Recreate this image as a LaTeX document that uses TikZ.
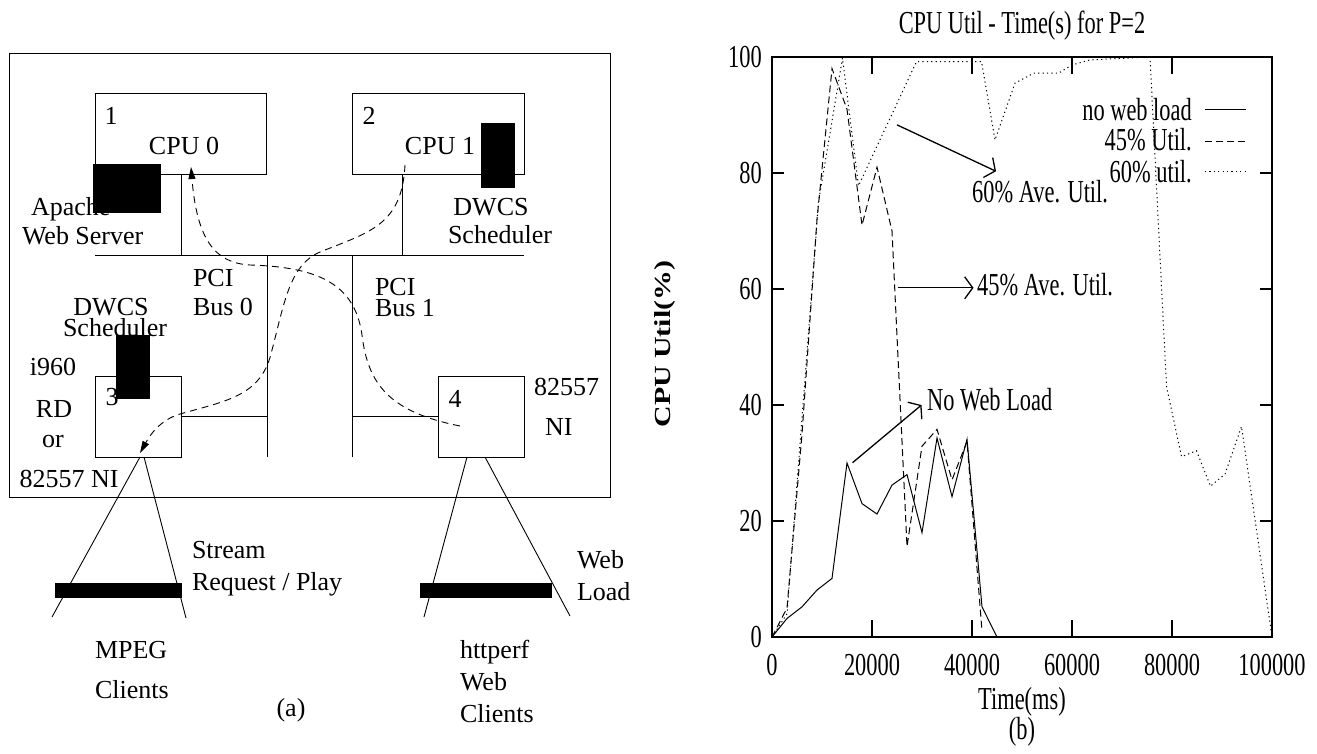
\documentclass[tikz,border=0pt]{standalone}
\usepackage{fontspec}
\setmainfont{Liberation Serif}
\newfontfamily\plotfont[FakeStretch=0.7]{Liberation Serif}
\newfontfamily\ylabfont[FakeStretch=1.3]{Liberation Serif}
\usetikzlibrary{arrows.meta}
\begin{document}
\begin{tikzpicture}[x=1pt,y=-1pt,
  txt/.style={font=\fontsize{26}{28}\selectfont, inner sep=0pt, outer sep=0pt},
  ptxt/.style={font=\plotfont\fontsize{32}{34}\selectfont, inner sep=0pt},
  box/.style={draw, line width=0.9pt, anchor=north west, inner sep=0pt, outer sep=0pt},
  wire/.style={line width=0.9pt},
  flow/.style={line width=0.9pt, dash pattern=on 7pt off 5pt},
  flowtip/.style={-{Triangle[length=12pt,width=7pt]}},
  axis/.style={line width=2.2pt},
  ann/.style={line width=1.3pt, -{Straight Barb[length=8pt,width=22pt]}},
  solidc/.style={line width=1pt},
  dashc/.style={line width=1pt, dash pattern=on 7pt off 4pt},
  dotc/.style={line width=1pt, dash pattern=on 1.2pt off 3.2pt}]

\useasboundingbox (0,0) rectangle (1317,753);
\fill[white] (0,0) rectangle (1317,753);

% ---------------- (a) architecture ----------------
\node[box, minimum width=601pt, minimum height=444pt] (outer) at (9,53) {};
\node[box, minimum width=171pt, minimum height=81pt] (box1) at (95,93) {};
\node[box, minimum width=172pt, minimum height=81pt] (box2) at (352,93) {};
\node[box, minimum width=86pt, minimum height=81pt] (box3) at (95,376) {};
\node[box, minimum width=86pt, minimum height=81pt] (box4) at (438,376) {};

\coordinate (busL) at (95,255);
\coordinate (busR) at (524,255);
\draw[wire] (busL) -- (busR);
\coordinate (d1) at ([xshift=86pt]box1.south west);
\draw[wire] (d1) -- (d1 |- busL);
\coordinate (d2) at ([xshift=50pt]box2.south west);
\draw[wire] (d2) -- (d2 |- busL);
\coordinate (pci0top) at (267,255);
\coordinate (pci0bot) at (267,457);
\coordinate (pci1top) at (352,255);
\coordinate (pci1bot) at (352,457);
\draw[wire] (pci0top) -- (pci0bot);
\draw[wire] (pci1top) -- (pci1bot);
\draw[wire] (box3.east) -- (box3.east -| pci0top);
\draw[wire] (box4.west) -- (box4.west -| pci1top);

% client links
\coordinate (s1) at (140,457); \coordinate (e1) at (52,617);
\coordinate (s2) at (144,457); \coordinate (e2) at (186,618);
\coordinate (s3) at (467,457); \coordinate (e3) at (424,617);
\coordinate (s4) at (485,457); \coordinate (e4) at (570,616);
\draw[wire] (s1) -- (e1);
\draw[wire] (s2) -- (e2);
\draw[wire] (s3) -- (e3);
\draw[wire] (s4) -- (e4);
\fill (55,583) rectangle (182,598);
\fill (420,583) rectangle (552,598);

% labels
\node[txt, anchor=base] (n1) at (111,124) {1};
\node[txt, anchor=base] (cpu0) at (184,154) {CPU 0};
\node[txt, anchor=base] (n2) at (369,124) {2};
\node[txt, anchor=base] (cpu1) at (440,154) {CPU 1};
\node[txt, anchor=base west] (apache) at (31,215) {Apache};
\node[txt, anchor=base west] (websrv) at (22,244) {Web Server};
\node[txt, anchor=base] (dwcs1) at (491,215) {DWCS};
\node[txt, anchor=base] (sched1) at (500,243) {Scheduler};
\node[txt, anchor=base west] (pci0a) at (193,286) {PCI};
\node[txt, anchor=base west] (pci0b) at (193,315) {Bus 0};
\node[txt, anchor=base west] (pci1a) at (375,295) {PCI};
\node[txt, anchor=base west] (pci1b) at (375,316) {Bus 1};
\node[txt, anchor=base] (dwcs2) at (111,315) {DWCS};
\node[txt, anchor=base] (sched2) at (115,336) {Scheduler};
\node[txt, anchor=base] (i960) at (53,375) {i960};
\node[txt, anchor=base] (n3) at (112,405) {3};
\node[txt, anchor=base] (rd) at (54,417) {RD};
\node[txt, anchor=base] (or) at (53,447) {or};
\node[txt, anchor=base] (ni1) at (69,487) {82557 NI};
\node[txt, anchor=base] (n4) at (455,407) {4};
\node[txt, anchor=base west] (ni2a) at (534,395) {82557};
\node[txt, anchor=base west] (ni2b) at (545,435) {NI};
\node[txt, anchor=base west] (stream) at (192,558) {Stream};
\node[txt, anchor=base west] (reqplay) at (192,590) {Request / Play};
\node[txt, anchor=base west] (webl) at (577,568) {Web};
\node[txt, anchor=base west] (load) at (577,600) {Load};
\node[txt, anchor=base west] (mpeg) at (95,658) {MPEG};
\node[txt, anchor=base west] (cli1) at (95,698) {Clients};
\node[txt, anchor=base] (capa) at (291,716) {(a)};
\node[txt, anchor=base west] (httperf) at (460,658) {httperf};
\node[txt, anchor=base west] (web2) at (460,690) {Web};
\node[txt, anchor=base west] (cli2) at (460,722) {Clients};

% scheduler / server blocks
\fill (93,164) rectangle (161,213);
\fill (481,123) rectangle (515,188);
\fill (116,335) rectangle (150,399);

% data flows
\coordinate (aStart) at (460,426);
\coordinate (aEnd) at (191,167);
\draw[flow, flowtip] (aStart) .. controls (390,412) and (368,385) .. (362,335)
  .. controls (355,285) and (320,267) .. (250,265)
  .. controls (215,263) and (197,240) .. (aEnd);
\coordinate (bStart) at (405,165);
\coordinate (bEnd) at (140,453);
\draw[flow, flowtip] (bStart) .. controls (402,225) and (370,232) .. (320,252)
  .. controls (290,265) and (285,300) .. (272,350)
  .. controls (262,395) and (230,400) .. (180,414)
  .. controls (160,420) and (150,435) .. (bEnd);

% ---------------- (b) plot ----------------
\begin{scope}[shift={(772,637)}, x=5pt, y=5.8pt]
  \draw[axis] (0,0) rectangle (100,100);
  \foreach \t in {20,40,60,80} {
    \draw[axis] (\t,0) -- (\t,2.93);
    \draw[axis] (\t,100) -- (\t,97.07);
  }
  \foreach \u in {20,40,60,80} {
    \draw[axis] (0,\u) -- (2.4,\u);
    \draw[axis] (100,\u) -- (97.6,\u);
  }
  \foreach \u in {0,20,40,60,80,100}
    \node[ptxt, anchor=east] (yl\u) at (-2,\u) {\u};
  \foreach \t/\l in {0/0,20/20000,40/40000,60/60000,80/80000,100/100000}
    \node[ptxt] (xl\t) at (\t,-4.9) {\l};

  \node[ptxt, anchor=base] (title) at (50,104.1) {CPU Util - Time(s) for P=2};
  \node[ptxt] (xlab) at (50,-11.2) {Time(ms)};
  \node[ptxt] (capb) at (50,-16.4) {(b)};
  \node[font=\ylabfont\bfseries\fontsize{23}{25}\selectfont, rotate=90, inner sep=0pt] (ylab) at (-21.4,50.5) {CPU Util(\%)};

  % curves
  \draw[solidc] plot coordinates {(0,0) (3,3.2) (6,5.2) (9,8.1) (12,10.1) (15,30) (18,23) (21,21.2) (24,26.2) (27,28) (30,18) (33,34.3) (36,24.2) (39,34.1) (42,5.2) (45,0)};
  \draw[dashc] plot coordinates {(0,0) (3,5) (6,35) (9,72) (12,98) (15,91) (18,71) (21,81) (24,70) (27,15.6) (30,32.9) (33,35.8) (36,27.1) (39,33.7) (42,1)};
  \draw[dotc] plot coordinates {(0,0) (3,4) (9.3,75) (14.1,99.8) (17.3,77.8) (28.9,99.2) (41.9,99.2) (44.6,85.7) (48.6,95.5) (52.3,97.2) (57.3,97.2) (59.9,98.6) (63.6,99.5) (75.6,100) (78.9,43.2) (81.9,31.1) (84.9,32.1) (87.7,26) (90.6,28.1) (93.9,36.3) (100,0)};

  % legend
  \node[ptxt, anchor=base east] (lg1) at (84,89.1) {no web load};
  \node[ptxt, anchor=base east] (lg2) at (84,83.8) {45\% Util.};
  \node[ptxt, anchor=base east] (lg3) at (84,78.4) {60\% util.};
  \coordinate (k1a) at (86.6,90.9); \coordinate (k1b) at (94.8,90.9);
  \coordinate (k2a) at (86.6,85.5); \coordinate (k2b) at (94.8,85.5);
  \coordinate (k3a) at (86.6,80.2); \coordinate (k3b) at (94.8,80.2);
  \draw[solidc] (k1a) -- (k1b);
  \draw[dashc] (k2a) -- (k2b);
  \draw[dotc] (k3a) -- (k3b);

  % annotations
  \node[ptxt, anchor=base west] (t60) at (40,75) {60\% Ave. Util.};
  \node[ptxt, anchor=base west] (t45) at (41,58.8) {45\% Ave. Util.};
  \node[ptxt, anchor=base west] (tnw) at (31,39.1) {No Web Load};
  \coordinate (a60s) at (25,88.3); \coordinate (a60e) at (44.8,80.3);
  \coordinate (a45s) at (25.1,60.2); \coordinate (a45e) at (40.3,60.2);
  \coordinate (anws) at (16.1,30.05); \coordinate (anwe) at (29.9,40);
  \draw[ann] (a60s) -- (a60e);
  \draw[ann] (a45s) -- (a45e);
  \draw[ann] (anws) -- (anwe);
\end{scope}
\end{tikzpicture}
\end{document}
